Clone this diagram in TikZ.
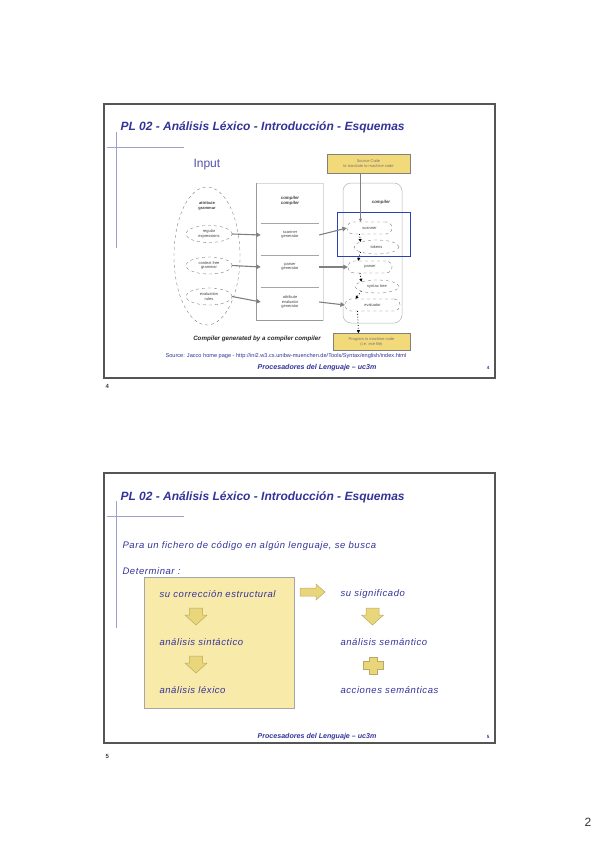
\documentclass[tikz,border=0pt]{standalone}
\usepackage{fontspec}
\setmainfont{Liberation Sans}
\usetikzlibrary{shapes.geometric,arrows.meta,positioning}

\definecolor{navy}{RGB}{51,51,153}
\definecolor{lavender}{RGB}{160,160,208}
\definecolor{paleyellow}{RGB}{248,234,168}
\definecolor{arrowyellow}{RGB}{234,214,122}
\definecolor{arrowedge}{RGB}{185,170,100}
\definecolor{boxyellow}{RGB}{242,218,122}
\definecolor{framegray}{RGB}{85,85,85}
\definecolor{hlblue}{RGB}{45,65,175}

\tikzset{
  slideframe/.style={draw=framegray,line width=1.4pt},
  templine/.style={draw=lavender,line width=0.9pt},
  slidetitle/.style={anchor=west,text=navy,font=\fontsize{12}{14}\selectfont\bfseries\itshape},
  footer/.style={text=navy,font=\fontsize{7.1}{8}\selectfont\bfseries\itshape},
  tinytext/.style={font=\fontsize{4}{4.6}\selectfont,text=black!75,align=center,inner sep=0pt},
  dashell/.style={tinytext,ellipse,draw=black!60,dashed,line width=0.3pt},
  dashround/.style={tinytext,rectangle,rounded corners=6pt,draw=black!60,dashed,line width=0.3pt},
  genbox/.style={tinytext,minimum width=58},
  genarrow/.style={draw=gray,line width=1.1pt,-{Triangle[length=4.5pt,width=4.5pt]}},
  flowarrow/.style={draw=black,dotted,line width=0.8pt,-{Triangle[length=3pt,width=3pt]}},
  codebox/.style={tinytext,fill=boxyellow,draw=gray,line width=0.6pt,text=black!55},
  bodytext/.style={anchor=west,text=navy,font=\fontsize{9.5}{11}\selectfont\itshape\addfontfeature{LetterSpace=6}},
  yarrow/.style={fill=arrowyellow,draw=arrowedge,line width=0.5pt},
}

\begin{document}
\begin{tikzpicture}[x=1pt,y=-1pt]
\useasboundingbox (0,0) rectangle (599,848);

% slide frames and template lines
\foreach \top/\bot/\vend in {104/378/248,473/743/628}{
  \draw[slideframe] (104,\top) rectangle (495,\bot);
  \draw[templine] (116,\top+28) -- (116,\vend);
  \draw[templine] (107,\top+43) -- (184,\top+43);
}

\node[slidetitle] (title4) at (117,127) {PL 02 - Análisis Léxico - Introducción - Esquemas};
\node[slidetitle] (title5) at (117,497) {PL 02 - Análisis Léxico - Introducción - Esquemas};

% slide 4
\node[anchor=west,text=navy!85,font=\fontsize{12}{14}\selectfont] (input) at (190,165) {Input};

\node[ellipse,draw=black!60,dashed,line width=0.3pt,minimum width=66,minimum height=138] (attr) at (207,256) {};
\node[tinytext,font=\fontsize{4}{4.6}\selectfont\bfseries] (attrlbl) at (207,206) {attribute\\grammar};
\node[dashell,minimum width=46,minimum height=17] (regex) at (209,234) {regular\\expressions};
\node[dashell,minimum width=46,minimum height=17] (cfg) at (209,265.5) {context free\\grammar};
\node[dashell,minimum width=46,minimum height=17] (rules) at (209,296.5) {evaluation\\rules};

\node[draw=gray!30,line width=0.4pt,minimum width=67,minimum height=137] (cc) at (289.5,251.5) {};
\draw[gray!80,line width=0.6pt] (cc.north west) -- (cc.south west) -- (cc.south east);
\node[tinytext,font=\fontsize{4.4}{5}\selectfont\bfseries\itshape] (cclbl) at (290,201) {compiler\\compiler};
\node[genbox,minimum height=24] (sgen) at (290,235) {scanner\\generator};
\node[genbox,minimum height=24] (pgen) at (290,267) {parser\\generator};
\node[genbox,minimum height=30] (egen) at (290,302) {attribute\\evaluator\\generator};
\foreach \g in {sgen,pgen,egen}
  \draw[gray!70,line width=0.6pt] (\g.north west) -- (\g.north east);

\node[draw=gray!60,line width=0.5pt,rounded corners=8pt,minimum width=59,minimum height=140] (comp) at (372.5,253) {};
\node[tinytext,font=\fontsize{4.4}{5}\selectfont\bfseries\itshape] (complbl) at (381,202) {compiler};

\node[codebox,minimum width=83,minimum height=19] (src) at (368.5,163.5) {Source Code\\to translate to machine code};
\node[codebox,minimum width=77,minimum height=17] (prog) at (371.5,342) {Program in machine code\\(i.e. exe file)};

\node[dashround,minimum width=45,minimum height=12] (scan) at (369.5,228) {scanner};
\node[dashell,minimum width=45,minimum height=14] (tok) at (376.5,247) {tokens};
\node[dashround,minimum width=44,minimum height=12] (parse) at (370,267) {parser};
\node[dashell,minimum width=44,minimum height=13] (tree) at (377,286.5) {syntax tree};
\node[dashround,minimum width=55,minimum height=12] (eval) at (372.5,305) {evaluator};

\node[draw=hlblue,line width=1.3pt,minimum width=73,minimum height=44] (hl) at (374,234.5) {};

\draw[gray,line width=0.6pt,-{Triangle[length=3pt,width=3pt]}] ([xshift=-8pt]src.south) -- ([xshift=-8pt]src.south |- scan.north);
\draw[flowarrow] ([xshift=-10pt]scan.south) -- (tok.north west);
\draw[flowarrow] (tok.south west) -- ([xshift=-12pt]parse.north);
\draw[flowarrow] ([xshift=-10pt]parse.south) -- (tree.north west);
\draw[flowarrow] (tree.south west) -- ([xshift=-17pt]eval.north);
\draw[flowarrow] ([xshift=-15pt]eval.south) -- ([xshift=-13pt]prog.north);

\draw[genarrow] (regex.east) -- (sgen.west);
\draw[genarrow] (cfg.east) -- (pgen.west);
\draw[genarrow] (rules.east) -- (egen.west);
\draw[genarrow] (sgen.east) -- (scan.west);
\draw[genarrow] (pgen.east) -- (parse.west);
\draw[genarrow] (egen.east) -- (eval.west);

\node[tinytext,text=black!85,font=\fontsize{6.2}{7}\selectfont\bfseries\itshape] (gencap) at (257,339) {Compiler generated by a compiler compiler};
\node[tinytext,text=navy,font=\fontsize{5.6}{6.2}\selectfont] (source) at (286,356.5) {Source: Jacco home page - http://ini2.w3.cs.unibw-muenchen.de/Tools/Syntax/english/index.html};
\node[footer] (foot4) at (317,368) {Procesadores del Lenguaje – uc3m};
\node[text=navy,font=\fontsize{4.5}{5}\selectfont\bfseries] (pg4) at (488,368) {4};
\node[anchor=west,text=black!75,font=\fontsize{6}{7}\selectfont\bfseries] (num4) at (102,386) {4};

% slide 5
\node[bodytext] (para) at (119,546) {Para un fichero de código en algún lenguaje, se busca};
\node[bodytext] (det) at (119,571) {Determinar :};
\node[fill=paleyellow,draw=gray!70,line width=0.6pt,minimum width=150,minimum height=131] (sintbox) at (219,642.5) {};

\node[bodytext] (corr) at (156,594) {su corrección estructural};
\node[bodytext] (sint) at (156,642) {análisis sintáctico};
\node[bodytext] (lex) at (156,690) {análisis léxico};
\node[bodytext] (sig) at (337,594) {su significado};
\node[bodytext] (sem) at (337,642) {análisis semántico};
\node[bodytext] (acc) at (337,690) {acciones semánticas};

\foreach \cx/\cy in {196/608,196/656,372.5/608}
  \filldraw[yarrow] (\cx-6.5,\cy) -- (\cx+6.5,\cy) -- (\cx+6.5,\cy+7) -- (\cx+11,\cy+7) -- (\cx,\cy+17) -- (\cx-11,\cy+7) -- (\cx-6.5,\cy+7) -- cycle;
\filldraw[yarrow] (300,588) -- (316,588) -- (316,584) -- (325,592) -- (316,600) -- (316,596) -- (300,596) -- cycle;
\filldraw[yarrow] (369,657) -- (377,657) -- (377,661.5) -- (383,661.5) -- (383,669.5) -- (377,669.5) -- (377,674) -- (369,674) -- (369,669.5) -- (363,669.5) -- (363,661.5) -- (369,661.5) -- cycle;

\node[footer] (foot5) at (317,737) {Procesadores del Lenguaje – uc3m};
\node[text=navy,font=\fontsize{4.5}{5}\selectfont\bfseries] (pg5) at (488,737) {5};
\node[anchor=west,text=black!75,font=\fontsize{6}{7}\selectfont\bfseries] (num5) at (102,756) {5};

\node[text=black!80,font=\fontsize{12}{14}\selectfont] (sheet) at (588,822) {2};
\end{tikzpicture}
\end{document}
